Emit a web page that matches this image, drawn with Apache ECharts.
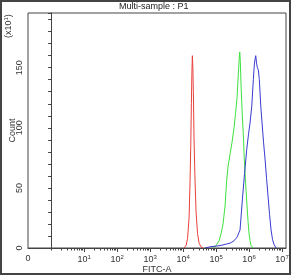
<!DOCTYPE html>
<html>
<head>
<meta charset="utf-8">
<script src="https://cdn.jsdelivr.net/npm/echarts@6/dist/echarts.min.js"></script>
<style>
  html, body { margin: 0; padding: 0; background: #fff; }
  #chart { width: 292px; height: 275px; }
</style>
</head>
<body>
<div id="chart"></div>
<script>
/* data: x = log10(FITC-A), y = count (x10^1) */
var xMin = -0.7, xMax = 7.12;
var decades = [1, 2, 3, 4, 5, 6, 7];
var yTicks = [0, 50, 100, 150];

var redX = [4.03, 4.091, 4.136, 4.182, 4.212, 4.233, 4.252, 4.267, 4.282, 4.297, 4.312, 4.333, 4.364, 4.394, 4.439, 4.485, 4.545, 4.606];
var redY = [0, 2, 8, 25, 55, 85, 120, 145, 160, 150, 130, 90, 55, 30, 12, 4, 1, 0];

var greenX = [4.909, 5.0, 5.091, 5.152, 5.212, 5.273, 5.318, 5.364, 5.424, 5.485, 5.545, 5.591, 5.636, 5.676, 5.703, 5.718, 5.736, 5.758, 5.788, 5.809, 5.833, 5.855, 5.879, 5.909, 5.939, 5.97, 6.0, 6.03, 6.061, 6.121];
var greenY = [0, 2, 6, 12, 20, 35, 55, 68, 78, 88, 100, 112, 125, 145, 158, 163, 155, 135, 115, 104, 90, 75, 62, 48, 35, 22, 12, 6, 2, 0];

var blueX = [4.667, 4.818, 4.97, 5.121, 5.273, 5.424, 5.545, 5.636, 5.727, 5.797, 5.864, 5.93, 5.985, 6.03, 6.082, 6.13, 6.161, 6.188, 6.203, 6.227, 6.252, 6.282, 6.312, 6.355, 6.394, 6.439, 6.485, 6.53, 6.585, 6.621, 6.667, 6.712, 6.758, 6.818];
var blueY = [0, 1, 1.5, 2, 3, 4, 6, 9, 15, 40, 62, 82, 95, 104, 118, 140, 153, 158, 160, 154, 150, 148, 140, 118, 104, 88, 74, 58, 40, 28, 15, 7, 3, 0];

// 把x和y合成点对
function pairs(xs, ys) {
  return xs.map(function (x, i) { return [x, ys[i]]; });
}

// 次刻度: k*10^d 的对数位置
var minorTicks = [];
for (var d = 0; d < 7; d++) {
  for (var k = 1; k <= 9; k++) {
    if (d > 0 && k === 1) continue;
    minorTicks.push(d + Math.log10(k));
  }
}

var labelVals = [xMin].concat(decades);
var font = 'Liberation Sans, Arial, sans-serif';

var chart = echarts.init(document.getElementById('chart'));
chart.setOption({
  animation: false,
  backgroundColor: '#fff',
  title: {
    text: 'Multi-sample : P1',
    left: 119, top: 2, padding: 0,
    textStyle: { fontSize: 9, fontWeight: 'normal', color: '#222', fontFamily: font }
  },
  grid: {
    left: 28, right: 6, top: 13, bottom: 27,
    outerBoundsMode: 'none',
    show: true, borderColor: '#444', borderWidth: 1
  },
  xAxis: [{
    type: 'value', min: xMin, max: xMax,
    name: 'FITC-A', nameLocation: 'middle', nameGap: 17, nameMoveOverlap: false,
    nameTextStyle: { fontSize: 9, color: '#333', fontFamily: font },
    axisLine: { lineStyle: { color: '#444' } },
    splitLine: { show: false },
    axisTick: { customValues: decades, length: 4, lineStyle: { color: '#444' } },
    axisLabel: {
      customValues: labelVals, margin: 6, color: '#333', fontSize: 9, fontFamily: font,
      showMinLabel: true, hideOverlap: false,
      formatter: function (v) {
        if (v < 0) return '0';
        return '{b|10}{s|' + Math.round(v) + '}';
      },
      rich: {
        b: { fontSize: 9, color: '#333', fontFamily: font },
        s: { fontSize: 6, color: '#333', fontFamily: font, verticalAlign: 'top', padding: [0, 0, 5, 0] }
      }
    }
  }, {
    type: 'value', min: xMin, max: xMax, position: 'bottom',
    axisLine: { show: false },
    splitLine: { show: false },
    axisTick: { customValues: minorTicks, length: 2.5, lineStyle: { color: '#444' } },
    axisLabel: { show: false }
  }],
  yAxis: {
    type: 'value', min: 0, max: 195.5, interval: 50,
    name: 'Count', nameLocation: 'middle', nameGap: 11, nameRotate: 90, nameMoveOverlap: false,
    nameTextStyle: { fontSize: 9, color: '#333', fontFamily: font },
    axisLine: { show: true, lineStyle: { color: '#444' } },
    splitLine: { show: false },
    axisTick: { length: 3, lineStyle: { color: '#444' } },
    minorTick: { show: true, splitNumber: 5, length: 3, lineStyle: { color: '#444' } },
    axisLabel: {
      rotate: 90, margin: 4, color: '#333', fontSize: 9, fontFamily: font,
      showMinLabel: true, hideOverlap: false,
      formatter: function (v) { return yTicks.indexOf(v) >= 0 ? String(v) : ''; }
    }
  },
  series: [
    { type: 'line', data: pairs(redX, redY), showSymbol: false, lineStyle: { color: '#e8403c', width: 1 } },
    { type: 'line', data: pairs(greenX, greenY), showSymbol: false, lineStyle: { color: '#3ee03e', width: 1 } },
    { type: 'line', data: pairs(blueX, blueY), showSymbol: false, lineStyle: { color: '#3a3ad0', width: 1 } }
  ],
  graphic: [
    {
      type: 'rect', silent: true,
      shape: { x: 1, y: 1, width: 289, height: 273 },
      style: { fill: null, stroke: '#444', lineWidth: 2 }
    },
    {
      type: 'text', x: 3, y: 38, rotation: Math.PI / 2,
      style: {
        text: '(x10{s|1})', fill: '#333', fontSize: 9, fontFamily: font,
        rich: { s: { fontSize: 6, fill: '#333', verticalAlign: 'top', padding: [0, 0, 5, 0] } }
      }
    }
  ]
});
</script>
</body>
</html>
